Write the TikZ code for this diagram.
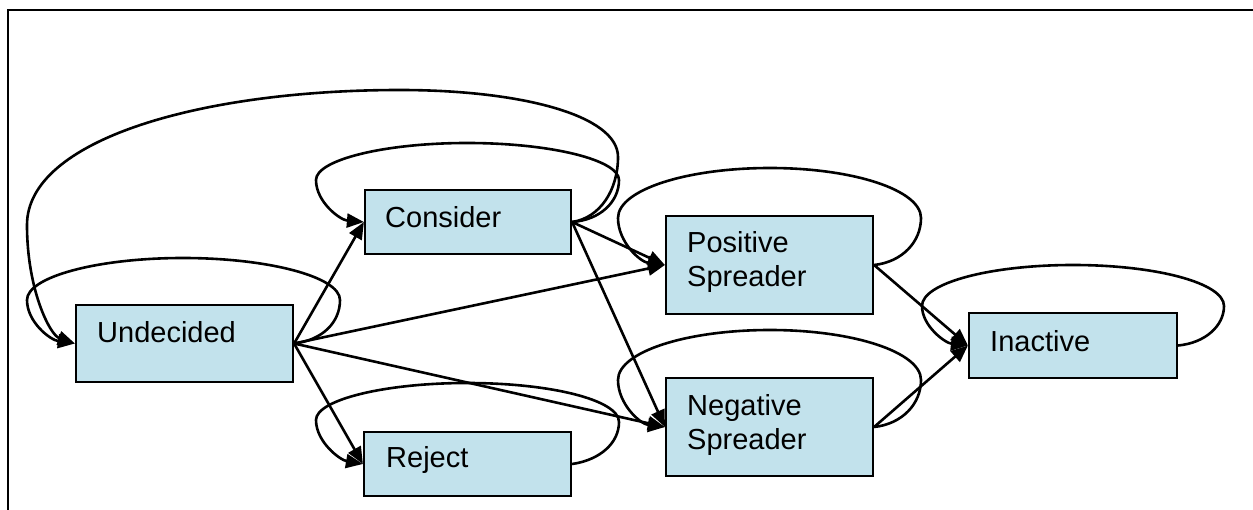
\documentclass[tikz,border=0pt]{standalone}
\usepackage{fontspec}
\setmainfont{Liberation Sans}
\usetikzlibrary{arrows.meta}
\definecolor{boxfill}{RGB}{194,226,236}
\tikzset{
  statebox/.style={draw=black, line width=2.2pt, fill=boxfill, rectangle, inner sep=0pt},
  boxtext/.style={anchor=base west, inner sep=0pt, font=\fontsize{29}{34}\selectfont},
  conn/.style={draw=black, line width=2.6pt, -{Triangle[length=17pt,width=14pt]}},
  frameline/.style={draw=black, line width=2.6pt}
}
\begin{document}
\begin{tikzpicture}[x=1pt,y=-1pt]
\useasboundingbox (0,0) rectangle (1253,510);
\fill[white] (0,0) rectangle (1253,510);
\draw[frameline] (8,510) -- (8,10) -- (1253,10);

% boxes
\node[statebox, minimum width=217pt, minimum height=77pt] (und) at (184.5,343.5) {};
\node[statebox, minimum width=206pt, minimum height=64pt] (con) at (468,222) {};
\node[statebox, minimum width=207pt, minimum height=64pt] (rej) at (467.5,464) {};
\node[statebox, minimum width=207pt, minimum height=98pt] (pos) at (769.5,265) {};
\node[statebox, minimum width=207pt, minimum height=98pt] (neg) at (769.5,427) {};
\node[statebox, minimum width=208pt, minimum height=65pt] (ina) at (1073,345.5) {};

% texts
\node[boxtext] (undt) at (97,343) {Undecided};
\node[boxtext] (cont) at (385,228) {Consider};
\node[boxtext] (rejt) at (386,467) {Reject};
\node[boxtext] (post1) at (687,253) {Positive};
\node[boxtext] (post2) at (687,287) {Spreader};
\node[boxtext] (negt1) at (687,415) {Negative};
\node[boxtext] (negt2) at (687,449) {Spreader};
\node[boxtext] (inat) at (990,352) {Inactive};

% straight connectors
\draw[conn] (und.east) -- (con.west);
\draw[conn] (und.east) -- (pos.west);
\draw[conn] (und.east) -- (neg.west);
\draw[conn] (und.east) -- (rej.west);
\draw[conn] (con.east) -- (pos.west);
\draw[conn] (con.east) -- (neg.west);
\draw[conn] (pos.east) -- (ina.west);
\draw[conn] (neg.east) -- (ina.west);

% self loops
\draw[conn] (und.east) .. controls (323,340) and (340,322) .. (340,300)
  .. controls (340,277) and (269,258) .. (183,258)
  .. controls (97,258) and (27,277) .. (27,300)
  .. controls (27,322) and (50,340) .. (und.west);
\draw[conn] (con.east) .. controls (600,220) and (619,202) .. (619,180)
  .. controls (619,160) and (551,143) .. (467,143)
  .. controls (384,143) and (316,160) .. (316,180)
  .. controls (316,202) and (340,220) .. (con.west);
\draw[conn] (rej.east) .. controls (600,460) and (619,443) .. (619,422)
  .. controls (619,400) and (551,383) .. (467,383)
  .. controls (384,383) and (316,400) .. (316,420)
  .. controls (316,442) and (340,460) .. (rej.west);
\draw[conn] (pos.east) .. controls (902,262) and (921,242) .. (921,218)
  .. controls (921,190) and (853,168) .. (770,168)
  .. controls (686,168) and (618,190) .. (618,218)
  .. controls (618,242) and (640,262) .. (pos.west);
\draw[conn] (neg.east) .. controls (902,424) and (921,404) .. (921,380)
  .. controls (921,352) and (853,330) .. (770,330)
  .. controls (686,330) and (618,352) .. (618,380)
  .. controls (618,404) and (640,424) .. (neg.west);
\draw[conn] (ina.east) .. controls (1205,343) and (1224,326) .. (1224,306)
  .. controls (1224,283) and (1156,265) .. (1073,265)
  .. controls (990,265) and (922,283) .. (922,306)
  .. controls (922,326) and (945,343) .. (ina.west);

% big arc Consider -> Undecided
\draw[conn] (con.east) .. controls (600,218) and (618,190) .. (618,157)
  .. controls (618,115) and (520,90) .. (400,90)
  .. controls (200,90) and (27,140) .. (27,225)
  .. controls (27,290) and (50,335) .. (und.west);
\end{tikzpicture}
\end{document}
